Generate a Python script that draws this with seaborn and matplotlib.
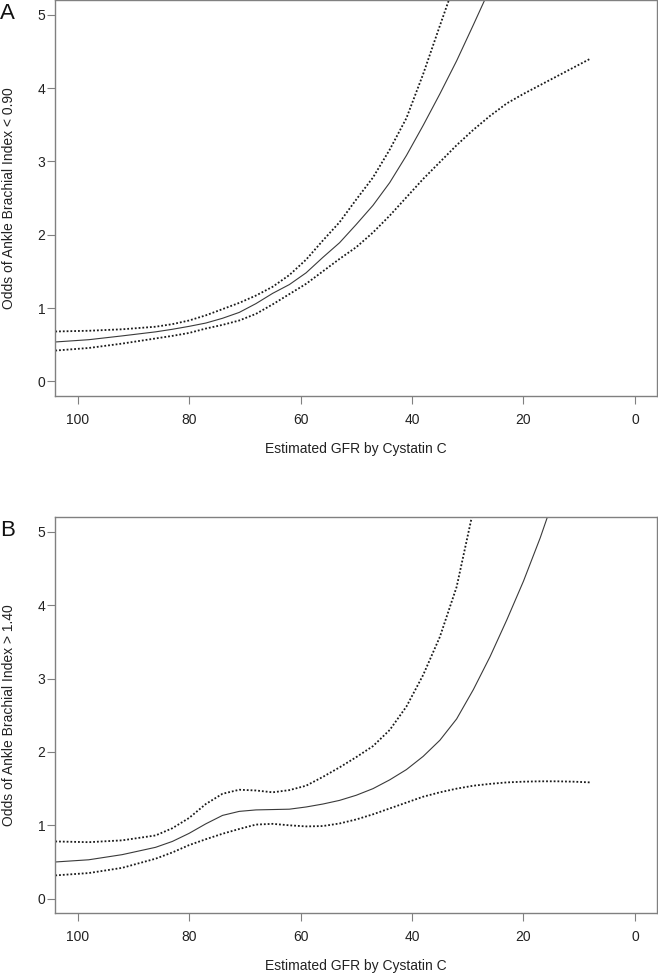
import matplotlib
matplotlib.use("Agg")
import matplotlib.pyplot as plt
import seaborn as sns

# eGFR grid, shared by every curve
gfr = [104, 98, 92, 86, 83, 80, 77, 74, 71, 68, 65, 62, 59, 56, 53,
       50, 47, 44, 41, 38, 35, 32, 29, 26, 23, 20, 17, 14, 11, 8]

# Panel A: odds of ABI < 0.90
a_est = [0.537, 0.568, 0.62, 0.675, 0.71, 0.75, 0.795, 0.86, 0.94, 1.06, 1.20,
         1.32, 1.48, 1.69, 1.89, 2.14, 2.40, 2.71, 3.08, 3.49, 3.92, 4.37, 4.86,
         5.36]
a_upper = [0.68, 0.69, 0.71, 0.745, 0.78, 0.83, 0.90, 0.985, 1.07, 1.17, 1.29,
           1.45, 1.66, 1.92, 2.17, 2.48, 2.78, 3.16, 3.59, 4.19, 4.85, 5.5]
a_lower = [0.42, 0.455, 0.515, 0.585, 0.62, 0.66, 0.72, 0.77, 0.83, 0.92, 1.05,
           1.19, 1.33, 1.50, 1.67, 1.83, 2.03, 2.26, 2.51, 2.76, 2.99, 3.22,
           3.43, 3.62, 3.79, 3.92, 4.04, 4.16, 4.28, 4.40]

# Panel B: odds of ABI > 1.40
b_est = [0.50, 0.53, 0.60, 0.70, 0.78, 0.89, 1.02, 1.135, 1.19, 1.21, 1.215,
         1.22, 1.25, 1.29, 1.34, 1.41, 1.50, 1.62, 1.76, 1.94, 2.16, 2.45, 2.85,
         3.30, 3.80, 4.33, 4.92, 5.58]
b_upper = [0.78, 0.77, 0.795, 0.862, 0.96, 1.10, 1.29, 1.43, 1.485, 1.475, 1.45,
           1.48, 1.54, 1.66, 1.79, 1.93, 2.08, 2.30, 2.62, 3.05, 3.57, 4.25, 5.3]
b_lower = [0.317, 0.349, 0.42, 0.545, 0.63, 0.73, 0.81, 0.885, 0.95, 1.01, 1.02,
           1.00, 0.985, 0.99, 1.025, 1.08, 1.15, 1.23, 1.31, 1.39, 1.45, 1.50,
           1.54, 1.565, 1.585, 1.595, 1.60, 1.60, 1.595, 1.585]

panels = [
    ("A", "Odds of Ankle Brachial Index < 0.90", a_est, a_upper, a_lower),
    ("B", "Odds of Ankle Brachial Index > 1.40", b_est, b_upper, b_lower),
]

sns.set_style("white")
plt.rcParams["font.family"] = ["Liberation Sans", "DejaVu Sans"]
plt.rcParams["font.size"] = 10

fig = plt.figure(figsize=(6.58, 9.74), dpi=100)
boxes = [[0.084, 0.5934, 0.9149, 0.4066], [0.084, 0.0623, 0.9149, 0.4066]]
tops = [6, 523]

grey = "#808080"
for (tag, ylab, est, up, lo), box, top in zip(panels, boxes, tops):
    ax = fig.add_axes(box)
    sns.lineplot(x=gfr[:len(est)], y=est, ax=ax, color="#3a3a3a",
                 linewidth=0.8, sort=False)
    for band in (up, lo):
        sns.lineplot(x=gfr[:len(band)], y=band, ax=ax, color="#1a1a1a",
                     linewidth=1.3, linestyle=(0, (1, 1.1)), sort=False)
    ax.set_xlim(104, -4)
    ax.set_ylim(-0.2, 5.2)
    ax.set_xticks([100, 80, 60, 40, 20, 0])
    ax.set_yticks([0, 1, 2, 3, 4, 5])
    for s in ax.spines.values():
        s.set_color(grey)
        s.set_linewidth(1.0)
    ax.tick_params(axis="both", direction="out", length=6, width=0.8,
                   color=grey, labelcolor="#222222", labelsize=10,
                   bottom=True, left=True)
    ax.tick_params(axis="x", pad=6)
    ax.tick_params(axis="y", pad=1)
    ax.set_xlabel("Estimated GFR by Cystatin C", fontsize=10, color="#222222")
    ax.set_ylabel(ylab, fontsize=10, color="#222222")
    ax.xaxis.set_label_coords(0.5, -0.1157)
    ax.yaxis.set_label_coords(-0.065, 0.5)
    fig.text(0.0, 1 - (top - 3) / 974, tag, fontsize=16, ha="left", va="top",
             color="#111111")

fig.savefig("out.png", dpi=100)
